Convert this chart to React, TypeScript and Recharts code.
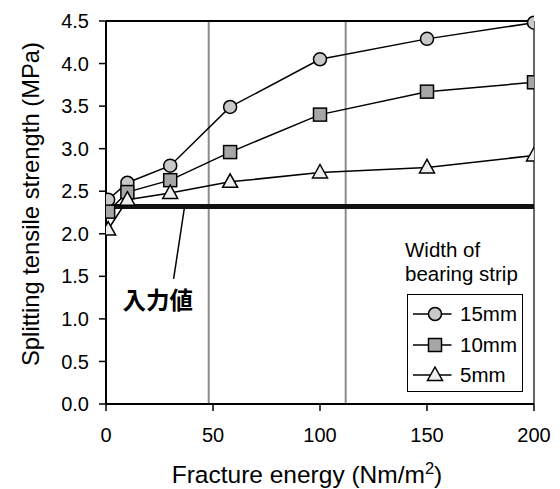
import React from 'react'
import { LineChart, Line, XAxis, YAxis, ReferenceLine, ReferenceDot } from 'recharts'

// fracture energy (Nm/m2) for each test point
const energy = [1, 10, 30, 58, 100, 150, 200]
// splitting tensile strength (MPa) by bearing strip width
const strip15 = [2.4, 2.6, 2.8, 3.49, 4.05, 4.29, 4.48]
const strip10 = [2.26, 2.49, 2.63, 2.96, 3.4, 3.67, 3.78]
const strip5 = [2.05, 2.4, 2.48, 2.61, 2.72, 2.78, 2.92]

const xTicks = [0, 50, 100, 150, 200]
const yTicks = [0, 0.5, 1, 1.5, 2, 2.5, 3, 3.5, 4, 4.5]

// input value used in the analysis
const inputValue = 2.32
// gray vertical guides
const guides = [48, 112]

const FONT = '"Liberation Sans", Arial, sans-serif'

const data = energy.map((e, i) => ({
  energy: e,
  s15: strip15[i],
  s10: strip10[i],
  s5: strip5[i],
}))

const CircleDot = (props: any) => {
  const { cx, cy } = props
  return <circle cx={cx} cy={cy} r={6.5} fill="#c8c8c8" stroke="#000" strokeWidth={1.5} />
}

const SquareDot = (props: any) => {
  const { cx, cy } = props
  return <rect x={cx - 6.5} y={cy - 6.5} width={13} height={13} fill="#a6a6a6" stroke="#000" strokeWidth={1.5} />
}

const TriangleDot = (props: any) => {
  const { cx, cy } = props
  return (
    <path
      d={`M${cx},${cy - 8} L${cx + 7.5},${cy + 5.5} L${cx - 7.5},${cy + 5.5} Z`}
      fill="#eeeeee"
      stroke="#000"
      strokeWidth={1.5}
    />
  )
}

const legendItems = [
  { name: '15mm', Dot: CircleDot },
  { name: '10mm', Dot: SquareDot },
  { name: '5mm', Dot: TriangleDot },
]

function LegendBox() {
  return (
    <div style={{ position: 'absolute', left: 405, top: 238, fontFamily: FONT, fontSize: 20.5, color: '#000' }}>
      <div style={{ lineHeight: '24px' }}>
        Width of
        <br />
        bearing strip
      </div>
      <div
        style={{
          border: '1.5px solid #000',
          width: 113.5,
          marginTop: 8,
          marginLeft: 2,
          padding: '4px 0 0 0',
          background: '#fff',
        }}
      >
        {legendItems.map(({ name, Dot }) => (
          <div key={name} style={{ display: 'flex', alignItems: 'center', height: 30.5 }}>
            <svg width={48} height={24}>
              <line x1={5} y1={12} x2={43.5} y2={12} stroke="#000" strokeWidth={1.5} />
              <Dot cx={27} cy={12} />
            </svg>
            <span style={{ marginLeft: 4 }}>{name}</span>
          </div>
        ))}
      </div>
    </div>
  )
}

const XLabel = (props: any) => {
  const { viewBox } = props
  return (
    <text x={307} y={viewBox.y + 79} textAnchor="middle" fontFamily={FONT} fontSize={24.5} fill="#000">
      Fracture energy (Nm/m<tspan fontSize={16.5} dy={-9}>2</tspan>
      <tspan dy={9}>)</tspan>
    </text>
  )
}

const YLabel = () => {
  const cy = 204
  const x = 30
  return (
    <text
      x={x}
      y={cy}
      textAnchor="middle"
      dominantBaseline="central"
      transform={`rotate(-90, ${x}, ${cy})`}
      fontFamily={FONT}
      fontSize={23.8}
      fill="#000"
    >
      Splitting tensile strength (MPa)
    </text>
  )
}

export default function App() {
  return (
    <div style={{ position: 'absolute', left: 0, top: 0, width: 560, height: 489, background: '#fff' }}>
      <LineChart width={560} height={489} data={data} margin={{ top: 21, right: 26, bottom: 45, left: 56 }}>
        <XAxis
          dataKey="energy"
          type="number"
          domain={[0, 200]}
          ticks={xTicks}
          interval={0}
          allowDataOverflow
          tick={{ fontSize: 20, fill: '#000', fontFamily: FONT }}
          tickSize={7}
          tickMargin={17}
          axisLine={{ stroke: '#000', strokeWidth: 2 }}
          tickLine={{ stroke: '#000', strokeWidth: 1.5 }}
          height={40}
          label={<XLabel />}
        />
        <YAxis
          type="number"
          domain={[0, 4.5]}
          ticks={yTicks}
          interval={0}
          tickFormatter={(v: number) => v.toFixed(1)}
          tick={{ fontSize: 20, fill: '#000', fontFamily: FONT }}
          tickSize={7}
          tickMargin={10}
          axisLine={{ stroke: '#000', strokeWidth: 2 }}
          tickLine={{ stroke: '#000', strokeWidth: 1.5 }}
          width={50}
          label={<YLabel />}
        />
        {guides.map(g => (
          <ReferenceLine key={g} x={g} stroke="#8c8c8c" strokeWidth={2} />
        ))}
        <ReferenceLine x={200} stroke="#333" strokeWidth={1.5} />
        <ReferenceLine y={4.5} stroke="#000" strokeWidth={2} />
        <ReferenceLine y={inputValue} stroke="#111" strokeWidth={5} />
        <ReferenceLine
          segment={[
            { x: 36.6, y: 2.3 },
            { x: 31.6, y: 1.47 },
          ]}
          stroke="#000"
          strokeWidth={1.5}
        />
        <ReferenceDot
          x={24.2}
          y={1.22}
          r={0}
          label={{
            value: '入力値',
            position: 'center',
            fontFamily: '"Noto Sans CJK JP", sans-serif',
            fontWeight: 'bold',
            fontSize: 23.5,
            fill: '#000',
          }}
        />
        <Line dataKey="s15" stroke="#000" strokeWidth={1.5} dot={<CircleDot />} isAnimationActive={false} />
        <Line dataKey="s10" stroke="#000" strokeWidth={1.5} dot={<SquareDot />} isAnimationActive={false} />
        <Line dataKey="s5" stroke="#000" strokeWidth={1.5} dot={<TriangleDot />} isAnimationActive={false} />
      </LineChart>
      <LegendBox />
    </div>
  )
}
